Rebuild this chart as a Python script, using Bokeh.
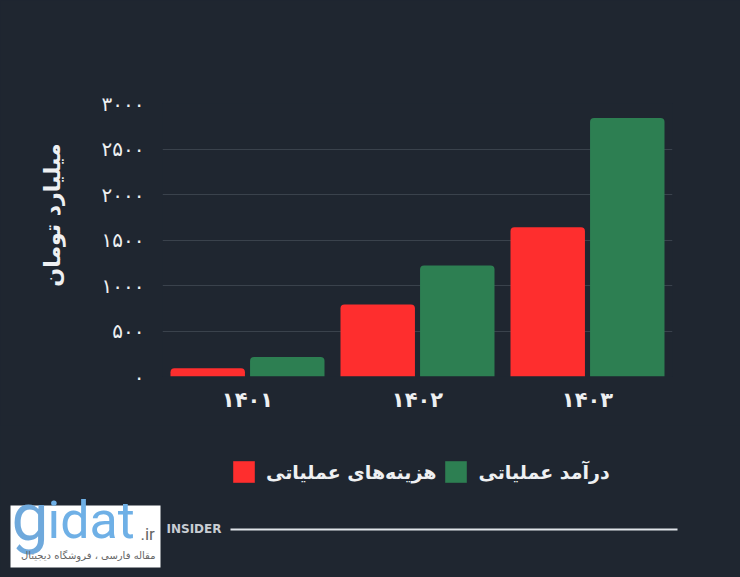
from bokeh.plotting import figure
from bokeh.layouts import column
from bokeh.models import (ColumnDataSource, FixedTicker, Legend, LegendItem, Title)
from bokeh.transform import dodge
from bokeh.core.properties import value
from bokeh.embed import file_html
from bokeh.resources import INLINE

# ---- data ----
years = ["۱۴۰۱", "۱۴۰۲", "۱۴۰۳"]
expenses = [90, 790, 1640]
revenue = [215, 1220, 2840]
y_ticks = [0, 500, 1000, 1500, 2000, 2500, 3000]
y_tick_labels = ["۰", "۵۰۰", "۱۰۰۰", "۱۵۰۰", "۲۰۰۰", "۲۵۰۰", "۳۰۰۰"]
series_names = ["هزینه‌های عملیاتی", "درآمد عملیاتی"]
y_title = "میلیارد تومان"
footer_text = "INSIDER"
logo_g = "g"
logo_text = "idat"
logo_suffix = ".ir"
logo_sub = "مقاله فارسی ، فروشگاه دیجیتال"

BG = "#1f2630"
RED = "#fe2e2e"
GREEN = "#2d7f52"
TXT = "#eef0f2"
FONT = "DejaVu Sans"

W = 740
H1 = 425
H2 = 577 - H1

src = ColumnDataSource(dict(year=years, expenses=expenses, revenue=revenue))

# ---------------- main chart ----------------
p = figure(x_range=years, y_range=(0, 3000), width=W, height=H1,
           output_backend="svg", toolbar_location=None,
           min_border_left=162, min_border_right=68,
           min_border_top=103, min_border_bottom=H1 - 376,
           background_fill_color=BG, border_fill_color=BG)
p.outline_line_color = None
p.frame_align = False

r1 = p.vbar(x=dodge("year", -0.234, range=p.x_range), top="expenses", width=0.438,
            source=src, color=RED, line_color=None, border_radius=(4, 4, 0, 0))
r2 = p.vbar(x=dodge("year", 0.234, range=p.x_range), top="revenue", width=0.438,
            source=src, color=GREEN, line_color=None, border_radius=(4, 4, 0, 0))

p.x_range.range_padding = 0
p.xgrid.grid_line_color = None
p.ygrid.grid_line_color = "#3a424c"
p.ygrid.grid_line_width = 1.2

p.yaxis.ticker = FixedTicker(ticks=y_ticks)
p.yaxis.major_label_overrides = {t: l for t, l in zip(y_ticks, y_tick_labels)}
for ax in (p.xaxis[0], p.yaxis[0]):
    ax.axis_line_color = None
    ax.major_tick_line_color = None
    ax.minor_tick_line_color = None
    ax.major_tick_out = 0
    ax.major_tick_in = 0
    ax.minor_tick_out = 0
    ax.minor_tick_in = 0
    ax.major_label_text_color = TXT
    ax.major_label_text_font = FONT
p.yaxis.major_label_text_font_size = "20px"
p.yaxis.major_label_standoff = 18
p.xaxis.major_label_text_font_size = "21px"
p.xaxis.major_label_text_font_style = "bold"
p.xaxis.major_label_standoff = 11

# y title (left panel, near the top of the frame)
p.add_layout(Title(text=y_title, align="right", offset=40, standoff=68,
                   text_color=TXT, text_font=FONT, text_font_size="22px",
                   text_font_style="bold"), "left")

# ---------------- bottom strip: legend, footer, watermark ----------------
p2 = figure(x_range=(0, W), y_range=(0, H2), width=W, height=H2,
            output_backend="svg", toolbar_location=None,
            x_axis_location=None, y_axis_location=None,
            min_border=0, min_border_left=0, min_border_right=0,
            min_border_top=0, min_border_bottom=0,
            background_fill_color=BG, border_fill_color=BG)
p2.outline_line_color = None
p2.frame_align = False
p2.grid.visible = False

# hidden helper renderers: only their legend swatches are drawn
lg1 = p2.vbar(x=[0], top=[0], width=0, color=RED, line_color=None, visible=False)
lg2 = p2.vbar(x=[0], top=[0], width=0, color=GREEN, line_color=None, visible=False)
legend = Legend(items=[LegendItem(label=series_names[0], renderers=[lg1]),
                       LegendItem(label=series_names[1], renderers=[lg2])],
                location=(230, 577 - 485), orientation="horizontal",
                glyph_width=27, glyph_height=27, label_height=27,
                label_standoff=9, spacing=6, padding=0, margin=0,
                border_line_alpha=0, background_fill_alpha=0,
                label_text_color=TXT, label_text_font=FONT,
                label_text_font_size="19px", label_text_font_style="bold")
p2.add_layout(legend, "center")

# footer line + text
p2.text(x=[221], y=[577 - 528], text=[footer_text], text_align="right",
        text_baseline="middle", text_color="#c8cdd3", text_font=value(FONT),
        text_font_size="12px", text_font_style="bold")
p2.segment(x0=[230], y0=[577 - 529], x1=[677], y1=[577 - 529],
           line_color="#dfe3e8", line_width=2)

# watermark box
p2.quad(left=[10], right=[160], bottom=[577 - 567], top=[577 - 505],
        fill_color="white", line_color=None)
p2.text(x=[11], y=[577 - 517], text=[logo_g], text_align="left",
        text_baseline="middle", text_color="#6fa9dc",
        text_font=value("Roboto"), text_font_size="66px")
p2.text(x=[47], y=[577 - 520], text=[logo_text], text_align="left",
        text_baseline="middle", text_color="#6fb0e6",
        text_font=value("Roboto"), text_font_size="52px")
p2.text(x=[140], y=[577 - 533], text=[logo_suffix], text_align="left",
        text_baseline="middle", text_color="#666666",
        text_font=value("Roboto"), text_font_size="17px")
p2.text(x=[155], y=[577 - 555], text=[logo_sub], text_align="right",
        text_baseline="middle", text_color="#666666",
        text_font=value(FONT), text_font_size="10px")

layout = column(p, p2, spacing=0, styles={"background-color": BG})
open("out.html", "w").write(file_html(layout, INLINE))
